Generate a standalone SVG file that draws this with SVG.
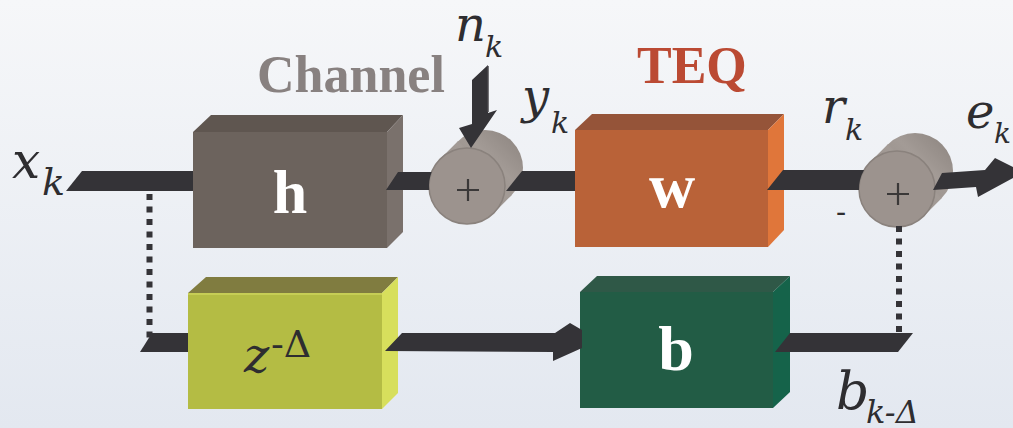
<svg xmlns="http://www.w3.org/2000/svg" width="1013" height="428" viewBox="0 0 1013 428">
<defs>
<linearGradient id="bg" x1="0" y1="0" x2="0" y2="1">
<stop offset="0" stop-color="#f6f7f9"/>
<stop offset="1" stop-color="#e3e8f0"/>
</linearGradient>
<linearGradient id="cyl" x1="0" y1="1" x2="1" y2="0">
<stop offset="0" stop-color="#8e8681"/>
<stop offset="0.6" stop-color="#a39b96"/>
<stop offset="1" stop-color="#8a827d"/>
</linearGradient>
<style>
.wire{fill:#343337}
.dot{fill:none;stroke:#343337;stroke-width:6;stroke-dasharray:6 6.5}
.lbl{font-family:"Liberation Serif","Times New Roman",serif}
.it{font-family:"DejaVu Serif","Liberation Serif",serif;font-style:italic;fill:#2e2d30}
.up{font-family:"DejaVu Serif","Liberation Serif",serif;fill:#2e2d30}
.bw{font-weight:bold;fill:#ffffff;text-anchor:middle}
.body{fill:url(#cyl)}
.front{fill:#9c938e;stroke:#8a827d;stroke-width:1.5}
.plus{stroke:#3a3838;stroke-width:2.2;fill:none}
</style>
</defs>
<rect width="1013" height="428" fill="url(#bg)"/>

<g id="label-channel"><text class="lbl" x="257" y="92" font-size="52" font-weight="bold" fill="#888180">Channel</text></g>
<g id="label-teq"><text class="lbl" x="637" y="83" font-size="52" font-weight="bold" fill="#bb4a33">TEQ</text></g>

<g id="node-h">
<polygon points="193,132 211,115 403,115 387,132" fill="#5f5650"/>
<polygon points="387,132 403,115 403,232 387,248" fill="#7a716c"/>
<rect x="193" y="132" width="194" height="116" fill="#6c635d"/>
<text class="lbl bw" x="290" y="213" font-size="62">h</text>
</g>

<g id="node-w">
<polygon points="575,130 592,114 784,114 768,130" fill="#955439"/>
<polygon points="768,130 784,114 784,230 768,247" fill="#e0763a"/>
<rect x="575" y="130" width="193" height="117" fill="#b96238"/>
<text class="lbl bw" x="672" y="207" font-size="64">w</text>
</g>

<g id="node-z">
<polygon points="188,293 206,277 398,277 382,293" fill="#807c40"/>
<polygon points="382,293 398,277 398,393 382,409" fill="#d7df5c"/>
<rect x="188" y="293" width="194" height="116" fill="#b4bc44"/>
<line x1="188" y1="294" x2="382" y2="294" stroke="#c6cd55" stroke-width="2"/>
<text class="it" x="244" y="372" font-size="48">z</text>
<text class="up" x="271" y="357" font-size="38">-Δ</text>
</g>

<g id="node-b">
<polygon points="580,292 597,276 790,276 773,292" fill="#2f5847"/>
<polygon points="773,292 790,276 790,392 773,408" fill="#15634a"/>
<rect x="580" y="292" width="193" height="116" fill="#225c45"/>
<text class="lbl bw" x="676" y="370" font-size="64">b</text>
</g>

<g id="node-sum1">
<circle cx="485" cy="168" r="38" class="body"/>
<polygon points="440.1,159.1 458.1,141.1 511.9,194.9 493.9,212.9" class="body"/>
<circle cx="467" cy="186" r="38" class="front"/>
<path class="plus" d="M457,190 H479 M468,179 V201"/>
</g>

<g id="node-sum2">
<circle cx="915" cy="171" r="38" class="body"/>
<polygon points="870.1,162.1 888.1,144.1 941.9,197.9 923.9,215.9" class="body"/>
<circle cx="897" cy="189" r="38" class="front"/>
<path class="plus" d="M887,194 H909 M898,183 V205"/>
<text class="up" x="836" y="222" font-size="30">-</text>
</g>

<g id="connectors">
<polygon class="wire" points="66,191 82,171 193,171 193,191"/>
<path class="wire" d="M386,190 L398,172 L431.7,172 A38 38 0 0 0 429.2,190 Z"/>
<polygon class="wire" points="506,191 522,171 575,171 575,191"/>
<path class="wire" d="M767,190 L783,170 L864.1,170 A38 38 0 0 0 859,190 Z"/>
<polygon class="wire" points="933,190 942,173 985,170 995,158 1013,167 1013,178 978,197 976,187"/>
<polygon class="wire" points="472,80 488,65 488,113 497,110 471,148 459,128 472,124"/>
<line x1="488" y1="66" x2="488" y2="112" stroke="#4a494d" stroke-width="1.5"/>
<polygon class="wire" points="140,352 152,333 188,333 188,352"/>
<polygon class="wire" points="385,351 402,333 555,333 570,323 582,330 582,348 553,361 553,352"/>
<polygon class="wire" points="775,352 790,333 913,333 898,352"/>
<line class="dot" x1="149.5" y1="194" x2="149.5" y2="338"/>
<line class="dot" x1="899" y1="226" x2="899" y2="333"/>
</g>

<g id="labels">
<text class="it" x="12" y="178" font-size="50">x</text>
<text class="it" x="42" y="195" font-size="38">k</text>
<text class="it" x="455" y="41" font-size="48">n</text>
<text class="it" x="485" y="57" font-size="30">k</text>
<text class="it" x="522" y="113" font-size="48">y</text>
<text class="it" x="551" y="133" font-size="30">k</text>
<text class="it" x="822" y="123" font-size="48">r</text>
<text class="it" x="845" y="140" font-size="30">k</text>
<text class="it" x="966" y="128" font-size="48">e</text>
<text class="it" x="994" y="143" font-size="28">k</text>
<text class="it" x="836" y="409" font-size="52">b</text>
<text class="it" x="866" y="423" font-size="32">k-Δ</text>
</g>
</svg>
